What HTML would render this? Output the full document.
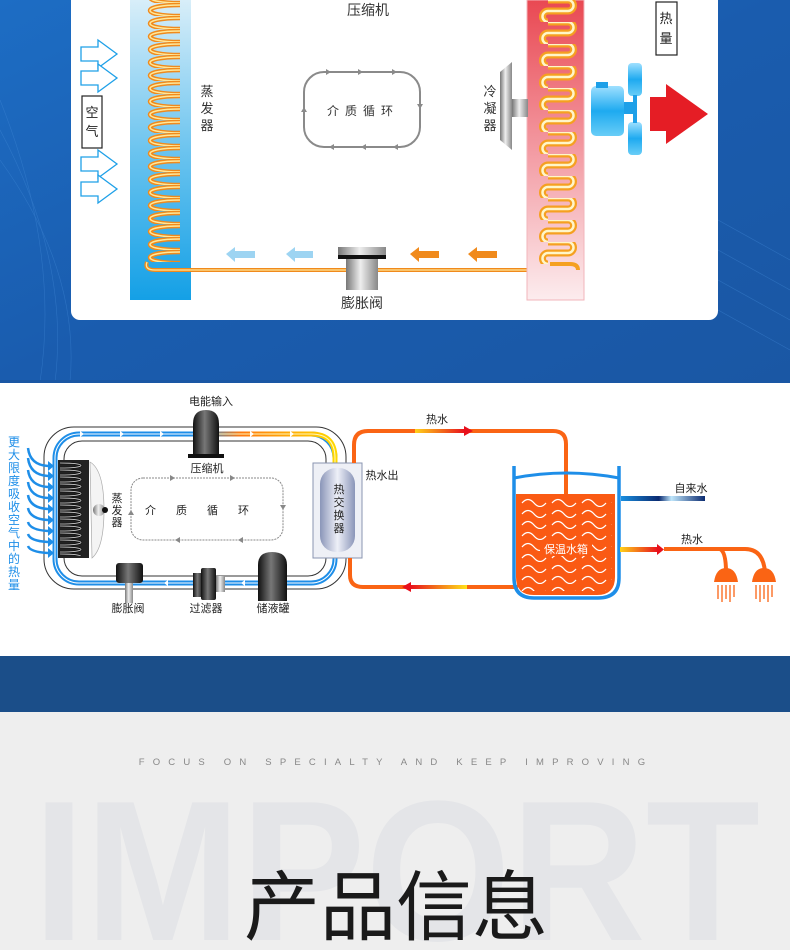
<!DOCTYPE html>
<html><head><meta charset="utf-8"><style>
html,body{margin:0;padding:0;width:790px;height:950px;overflow:hidden;background:#eee}
svg{display:block}
text{font-family:"Liberation Sans","Noto Sans CJK SC",sans-serif}
</style></head><body>
<svg width="790" height="950" viewBox="0 0 790 950" xmlns="http://www.w3.org/2000/svg">
<defs>
<linearGradient id="bg1" x1="0" y1="0" x2="1" y2="1"><stop offset="0" stop-color="#1d6dc4"/><stop offset="0.5" stop-color="#1a5cae"/><stop offset="1" stop-color="#1a57a4"/></linearGradient>
<linearGradient id="evap" x1="0" y1="0" x2="0" y2="1"><stop offset="0" stop-color="#d8eef9"/><stop offset="0.5" stop-color="#6cc4ef"/><stop offset="1" stop-color="#14a0e6"/></linearGradient>
<linearGradient id="cond" x1="0" y1="0" x2="0" y2="1"><stop offset="0" stop-color="#e94852"/><stop offset="0.5" stop-color="#f39aa2"/><stop offset="1" stop-color="#fcecee"/></linearGradient>
<linearGradient id="gray" x1="0" y1="0" x2="1" y2="0"><stop offset="0" stop-color="#777"/><stop offset="0.45" stop-color="#eee"/><stop offset="1" stop-color="#888"/></linearGradient>
<linearGradient id="dark" x1="0" y1="0" x2="1" y2="0"><stop offset="0" stop-color="#111"/><stop offset="0.45" stop-color="#777"/><stop offset="1" stop-color="#111"/></linearGradient>
<linearGradient id="motor" x1="0" y1="0" x2="0" y2="1"><stop offset="0" stop-color="#9fe0ff"/><stop offset="0.5" stop-color="#1eaaf0"/><stop offset="1" stop-color="#69cdf7"/></linearGradient>
<linearGradient id="hot" x1="0" y1="0" x2="1" y2="0"><stop offset="0" stop-color="#ffd21a"/><stop offset="1" stop-color="#e8101c"/></linearGradient>
<linearGradient id="hot2" x1="1" y1="0" x2="0" y2="0"><stop offset="0" stop-color="#ffe21a"/><stop offset="1" stop-color="#e8101c"/></linearGradient>
<linearGradient id="tap" x1="1" y1="0" x2="0" y2="0"><stop offset="0" stop-color="#0a2a70"/><stop offset="0.4" stop-color="#bfe6fb"/><stop offset="0.55" stop-color="#0a2a70"/><stop offset="1" stop-color="#1a8fe0"/></linearGradient>
<linearGradient id="comp" x1="0" y1="0" x2="1" y2="0"><stop offset="0" stop-color="#1e8ee8"/><stop offset="0.3" stop-color="#ff7a10"/><stop offset="1" stop-color="#ffd800"/></linearGradient>
<linearGradient id="hx" x1="0" y1="0" x2="1" y2="0"><stop offset="0" stop-color="#8a95b8"/><stop offset="0.5" stop-color="#eef0f8"/><stop offset="1" stop-color="#8a95b8"/></linearGradient>
<pattern id="coil" patternUnits="userSpaceOnUse" x="140" y="3" width="45" height="13">
<path d="M40,2 C0,2 0,13 40,13" fill="none" stroke="#f08a1c" stroke-width="4.5"/>
<path d="M40,2 C0,2 0,13 40,13" fill="none" stroke="#ffe89a" stroke-width="1.5"/>
</pattern>
<pattern id="serp" patternUnits="userSpaceOnUse" x="536" y="0" width="46" height="22">
<path d="M12,0 H32 A5.5,5.5 0 0 1 32,11 H12 A5.5,5.5 0 0 0 12,22" fill="none" stroke="#f5a020" stroke-width="7"/>
<path d="M12,0 H32 A5.5,5.5 0 0 1 32,11 H12 A5.5,5.5 0 0 0 12,22" fill="none" stroke="#fff6c8" stroke-width="2.5"/>
</pattern>
<pattern id="coil2" patternUnits="userSpaceOnUse" x="58" y="462" width="32" height="7">
<path d="M2,1 C30,1 30,6 2,6" fill="none" stroke="#111" stroke-width="2.5"/>
<path d="M2,1 C30,1 30,6 2,6" fill="none" stroke="#ddd" stroke-width="0.8"/>
</pattern>
<pattern id="wave" patternUnits="userSpaceOnUse" x="520" y="496" width="30" height="11">
<path d="M2,7 q6,-7 12,0 t12,0" fill="none" stroke="#fff" stroke-width="1.3"/>
</pattern>
</defs>

<rect x="0" y="0" width="790" height="382" fill="url(#bg1)"/>
<g stroke="#3f86d4" stroke-width="0.6" opacity="0.5" fill="none">
<path d="M0,100 Q60,250 40,382"/><path d="M0,130 Q70,260 55,382"/><path d="M0,160 Q80,270 70,382"/>
<path d="M718,220 L790,260"/><path d="M718,250 L790,290"/><path d="M718,280 L790,320"/><path d="M718,310 L790,350"/>
</g>
<rect x="71" y="-20" width="647" height="340" rx="9" fill="#fff"/>

<rect x="130" y="0" width="61" height="300" fill="url(#evap)"/>
<rect x="140" y="0" width="45" height="262" fill="url(#coil)"/>
<path d="M147,262 Q144,270 155,270 H578" fill="none" stroke="#f08a1c" stroke-width="4"/>
<path d="M147,262 Q144,270 155,270 H578" fill="none" stroke="#ffe89a" stroke-width="1.3"/>
<rect x="527" y="0" width="57" height="300" fill="url(#cond)" stroke="#f2b5bb"/>
<rect x="536" y="0" width="46" height="264" fill="url(#serp)"/>
<path d="M550,264 H570 Q578,264 578,270" fill="none" stroke="#f5a020" stroke-width="4"/>

<g fill="#fff" stroke="#1ea0e8" stroke-width="1.3">
<path d="M81,47 h17 v-7 l19,14 l-19,14 v-7 h-17z"/>
<path d="M81,71 h17 v-7 l19,14 l-19,14 v-7 h-17z"/>
<path d="M81,157 h17 v-7 l19,14 l-19,14 v-7 h-17z"/>
<path d="M81,182 h17 v-7 l19,14 l-19,14 v-7 h-17z"/>
</g>
<rect x="82" y="96" width="20" height="52" fill="#fff" stroke="#222" stroke-width="1.2"/>
<text x="92" y="117" font-size="13" text-anchor="middle" fill="#222">空</text>
<text x="92" y="136" font-size="13" text-anchor="middle" fill="#222">气</text>

<text x="368" y="15" font-size="14" text-anchor="middle" fill="#333">压缩机</text>
<g font-size="13" fill="#333" text-anchor="middle">
<text x="207" y="96">蒸</text><text x="207" y="113">发</text><text x="207" y="130">器</text>
<text x="490" y="96">冷</text><text x="490" y="113">凝</text><text x="490" y="130">器</text>
</g>
<rect x="656" y="2" width="21" height="53" fill="#fff" stroke="#222" stroke-width="1.2"/>
<text x="666" y="23" font-size="13" text-anchor="middle" fill="#222">热</text>
<text x="666" y="43" font-size="13" text-anchor="middle" fill="#222">量</text>

<rect x="304" y="72" width="116" height="75" rx="20" fill="none" stroke="#8a8a8a" stroke-width="2"/>
<g fill="#8a8a8a">
<path d="M326,69 l5,3 l-5,3z"/><path d="M358,69 l5,3 l-5,3z"/><path d="M392,69 l5,3 l-5,3z"/>
<path d="M334,144 l-5,3 l5,3z"/><path d="M366,144 l-5,3 l5,3z"/><path d="M398,144 l-5,3 l5,3z"/>
<path d="M417,104 l3,5 l3,-5z"/><path d="M301,112 l3,-5 l3,5z"/>
</g>
<text x="363" y="115" font-size="12" text-anchor="middle" fill="#333" letter-spacing="6">介质循环</text>

<path d="M500,72 L512,62 V150 L500,140z" fill="url(#gray)"/>
<rect x="512" y="99" width="16" height="18" fill="url(#gray)"/>
<rect x="591" y="86" width="33" height="50" rx="5" fill="url(#motor)"/>
<rect x="596" y="82" width="12" height="6" fill="#1ea0e8"/>
<rect x="624" y="102" width="12" height="12" fill="#1ea0e8"/>
<rect x="628" y="63" width="14" height="33" rx="4" fill="url(#motor)"/>
<rect x="628" y="122" width="14" height="33" rx="4" fill="url(#motor)"/>
<rect x="633" y="95" width="4" height="28" fill="#1ea0e8"/>
<path d="M650,97 h16 v-13 l42,30 l-42,30 v-13 h-16z" fill="#e51d25"/>

<g fill="#9dd4f2"><path d="M226,254 l9,-7 v4 h20 v7 h-20 v4z"/><path d="M286,254 l9,-7 v4 h18 v7 h-18 v4z"/></g>
<g fill="#f08a1c"><path d="M410,254 l9,-7 v4 h20 v7 h-20 v4z"/><path d="M468,254 l9,-7 v4 h20 v7 h-20 v4z"/></g>
<rect x="338" y="247" width="48" height="10" fill="url(#gray)"/>
<rect x="338" y="255" width="48" height="4" fill="#111"/>
<rect x="346" y="259" width="32" height="31" fill="url(#gray)"/>
<text x="362" y="308" font-size="14" text-anchor="middle" fill="#333">膨胀阀</text>

<rect x="0" y="382" width="790" height="274" fill="#fff"/>
<rect x="0" y="380" width="790" height="3" fill="#1a57a4"/>
<text x="211" y="405" font-size="11" text-anchor="middle" fill="#222">电能输入</text>
<rect x="44" y="427" width="302" height="162" rx="30" fill="none" stroke="#333" stroke-width="1"/>
<rect x="55" y="434" width="280" height="149" rx="24" fill="none" stroke="#1e8ee8" stroke-width="5"/>
<rect x="55" y="434" width="280" height="149" rx="24" fill="none" stroke="#fff" stroke-width="1"/>
<rect x="64" y="441" width="262" height="135" rx="18" fill="none" stroke="#333" stroke-width="1"/>
<path d="M200,434 H311 Q335,434 335,458 V465" fill="none" stroke="url(#comp)" stroke-width="5"/>
<path d="M200,434 H311 Q335,434 335,458 V465" fill="none" stroke="#fff8c0" stroke-width="1"/>
<g fill="#fff"><path d="M80,431l4,3l-4,3z"/><path d="M120,431l4,3l-4,3z"/><path d="M160,431l4,3l-4,3z"/><path d="M250,431l4,3l-4,3z"/><path d="M290,431l4,3l-4,3z"/>
<path d="M168,580l-4,3l4,3z"/><path d="M245,580l-4,3l4,3z"/></g>
<path d="M193,458 V424 Q193,410 206,410 Q219,410 219,424 V458z" fill="url(#dark)"/>
<rect x="188" y="454" width="36" height="4" fill="#111"/>
<text x="207" y="472" font-size="11" text-anchor="middle" fill="#222">压缩机</text>
<rect x="58" y="460" width="31" height="98" fill="#222"/>
<rect x="58" y="462" width="32" height="94" fill="url(#coil2)"/>
<path d="M90,462 Q104,470 104,510 Q104,548 92,558 Z" fill="#f4f4f4" stroke="#aaa" stroke-width="0.7"/>
<circle cx="99" cy="510" r="6" fill="url(#gray)"/><circle cx="105" cy="510" r="3" fill="#111"/>
<g font-size="11" fill="#222" text-anchor="middle"><text x="117" y="502">蒸</text><text x="117" y="514">发</text><text x="117" y="526">器</text></g>
<rect x="131" y="478" width="152" height="62" rx="12" fill="none" stroke="#888" stroke-width="1" stroke-dasharray="2,1"/>
<g fill="#888"><path d="M170,475l5,3l-5,3z"/><path d="M230,475l5,3l-5,3z"/><path d="M180,537l-5,3l5,3z"/><path d="M243,537l-5,3l5,3z"/><path d="M280,505l3,5l3,-5z"/><path d="M128,515l3,-5l3,5z"/></g>
<text x="207" y="514" font-size="11" text-anchor="middle" fill="#222" letter-spacing="20">介质循环</text>
<rect x="313" y="463" width="49" height="95" fill="#eef0f6" stroke="#8a95b0"/>
<rect x="320" y="468" width="35" height="84" rx="16" fill="url(#hx)"/>
<g font-size="11" fill="#222" text-anchor="middle"><text x="339" y="493">热</text><text x="339" y="506">交</text><text x="339" y="519">换</text><text x="339" y="532">器</text></g>
<text x="382" y="479" font-size="11" text-anchor="middle" fill="#222">热水出</text>
<rect x="116" y="563" width="27" height="20" rx="3" fill="url(#dark)"/>
<rect x="125" y="583" width="8" height="20" fill="url(#gray)"/>
<rect x="193" y="573" width="10" height="24" fill="url(#dark)"/>
<rect x="201" y="568" width="15" height="32" rx="2" fill="url(#dark)"/>
<rect x="216" y="576" width="9" height="16" fill="url(#gray)"/>
<path d="M258,601 V565 Q258,552 272,552 Q287,552 287,565 V601z" fill="url(#dark)"/>
<g font-size="11" fill="#222" text-anchor="middle"><text x="128" y="612">膨胀阀</text><text x="206" y="612">过滤器</text><text x="273" y="612">储液罐</text></g>
<g font-size="12" fill="#1e8ee8" text-anchor="middle">
<text x="14" y="446">更</text><text x="14" y="459">大</text><text x="14" y="472">限</text><text x="14" y="485">度</text><text x="14" y="498">吸</text><text x="14" y="511">收</text><text x="14" y="524">空</text><text x="14" y="537">气</text><text x="14" y="550">中</text><text x="14" y="563">的</text><text x="14" y="576">热</text><text x="14" y="589">量</text>
</g>
<g fill="none" stroke="#1e8ee8" stroke-width="2.5">
<path d="M28,448 Q30,465 48,466"/><path d="M28,458 Q30,475 48,476"/><path d="M28,470 Q30,486 48,487"/><path d="M28,482 Q30,497 48,498"/><path d="M28,495 Q30,508 48,509"/><path d="M28,508 Q30,519 48,520"/><path d="M28,522 Q30,530 48,531"/><path d="M28,534 Q30,541 48,542"/><path d="M28,546 Q30,552 48,553"/>
</g>
<g fill="#1e8ee8"><path d="M48,461l6,5l-6,5z"/><path d="M48,471l6,5l-6,5z"/><path d="M48,482l6,5l-6,5z"/><path d="M48,493l6,5l-6,5z"/><path d="M48,504l6,5l-6,5z"/><path d="M48,515l6,5l-6,5z"/><path d="M48,526l6,5l-6,5z"/><path d="M48,537l6,5l-6,5z"/><path d="M48,548l6,5l-6,5z"/></g>
<path d="M354,463 V445 Q354,431 368,431 H553 Q566,431 566,444 V494" fill="none" stroke="#fa6414" stroke-width="4"/>
<path d="M350,558 V575 Q350,587 363,587 H518" fill="none" stroke="#fa6414" stroke-width="4"/>
<rect x="415" y="429" width="50" height="4" fill="url(#hot)"/><path d="M464,426l9,5l-9,5z" fill="#e8101c"/>
<rect x="410" y="585" width="57" height="4" fill="url(#hot2)"/><path d="M411,582l-9,5l9,5z" fill="#e8101c"/>
<text x="437" y="423" font-size="11" text-anchor="middle" fill="#222">热水</text>
<path d="M516,494 H615 V577 Q615,595 597,595 H534 Q516,595 516,577z" fill="#fa5a14"/>
<rect x="519" y="496" width="93" height="95" fill="url(#wave)"/>
<path d="M514,466 V578 Q514,598 534,598 H598 Q619,598 619,578 V466" fill="none" stroke="#1e8ee8" stroke-width="3.5"/>
<path d="M514,478 Q566,468 619,478" fill="none" stroke="#1e8ee8" stroke-width="3"/>
<rect x="540" y="542" width="52" height="14" fill="#fa5a14"/>
<text x="566" y="553" font-size="11" text-anchor="middle" fill="#fff">保温水箱</text>
<rect x="621" y="496" width="84" height="5" fill="url(#tap)"/>
<text x="691" y="492" font-size="11" text-anchor="middle" fill="#222">自来水</text>
<rect x="620" y="547" width="38" height="5" fill="url(#hot)"/><path d="M657,544l7,5.5l-7,5.5z" fill="#e8101c"/>
<text x="692" y="543" font-size="11" text-anchor="middle" fill="#222">热水</text>
<path d="M664,549 H745 Q763,549 765,572" fill="none" stroke="#fa6414" stroke-width="4"/>
<path d="M720,549 Q726,552 726,572" fill="none" stroke="#fa6414" stroke-width="4"/>
<path d="M714,582 Q716,568 726,568 Q736,568 738,582z" fill="#fa6414"/>
<path d="M752,582 Q754,568 764,568 Q774,568 776,582z" fill="#fa6414"/>
<g stroke="#fa6414" stroke-width="1.3"><path d="M718,585v14M722,585v17M726,585v14M730,585v17M734,585v12M756,585v14M760,585v17M764,585v14M768,585v17M772,585v12"/></g>

<rect x="0" y="656" width="790" height="56" fill="#1b4e89"/>
<rect x="0" y="712" width="790" height="238" fill="#eeeeee"/>
<text x="396" y="765" font-size="9.5" text-anchor="middle" fill="#888" letter-spacing="8.2">FOCUS ON SPECIALTY AND KEEP IMPROVING</text>
<text x="33" y="940" font-size="200" font-weight="bold" fill="#e4e5e8" textLength="727" lengthAdjust="spacingAndGlyphs">IMPORT</text>
<text x="396" y="934" font-size="76" text-anchor="middle" fill="#1a1a1a" font-family="'Noto Sans CJK SC',sans-serif">产品信息</text>
</svg>
</body></html>
